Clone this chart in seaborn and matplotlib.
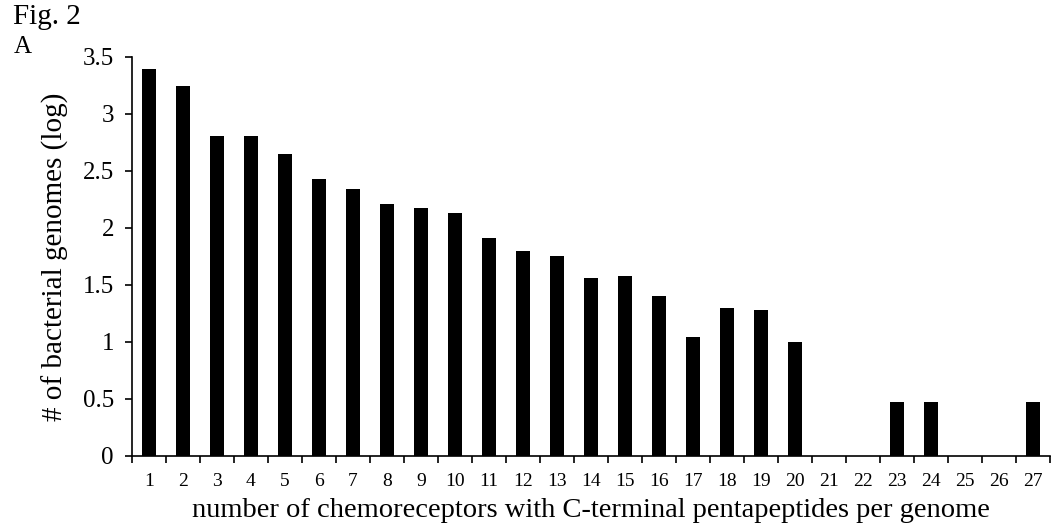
import matplotlib
matplotlib.use("Agg")
import matplotlib.pyplot as plt
from matplotlib.ticker import FixedLocator, FuncFormatter
import seaborn as sns
import pandas as pd

# ---- data ----
categories = [str(i) for i in range(1, 28)]
log_genomes = [3.39, 3.245, 2.807, 2.807, 2.646, 2.427, 2.34, 2.213, 2.175, 2.134,
               1.915, 1.80, 1.757, 1.558, 1.582, 1.40, 1.041, 1.30, 1.279, 1.00,
               0.0, 0.0, 0.477, 0.477, 0.0, 0.0, 0.477]
y_ticks = [0, 0.5, 1, 1.5, 2, 2.5, 3, 3.5]

df = pd.DataFrame({"n": categories, "v": log_genomes})

sns.set_theme(style="white")
plt.rcParams["font.family"] = ["Liberation Serif", "DejaVu Serif"]

fig = plt.figure(figsize=(10.6, 5.27), dpi=100)
ax = fig.add_axes([132 / 1060, 1 - 456 / 527, (1050 - 132) / 1060, (456 - 56.7) / 527])

sns.barplot(data=df, x="n", y="v", order=categories, color="black",
            width=0.39, saturation=1, ax=ax, edgecolor="black", linewidth=0)

ax.set_xlim(-0.5, len(categories) - 0.5)
ax.set_ylim(0, 3.5)
ax.yaxis.set_major_locator(FixedLocator(y_ticks))
ax.yaxis.set_major_formatter(FuncFormatter(lambda v, p: f"{v:g}"))

# category boundary ticks (minor) and unticked labels (major)
ax.set_xticks([i - 0.5 for i in range(len(categories) + 1)], minor=True)
ax.tick_params(axis="x", which="minor", length=5, width=1.2, direction="out",
               color="black", bottom=True)
ax.tick_params(axis="x", which="major", length=0, pad=12, labelsize=14,
               labelcolor="black")
ax.tick_params(axis="y", which="major", length=5, width=1.2, direction="out",
               color="black", left=True, pad=8, labelsize=18, labelcolor="black")

for side in ("top", "right"):
    ax.spines[side].set_visible(False)
for side in ("left", "bottom"):
    ax.spines[side].set_color("black")
    ax.spines[side].set_linewidth(1.2)

ax.set_xlabel("number of chemoreceptors with C-terminal pentapeptides per genome",
              fontsize=20.5, color="black", labelpad=6)
ax.set_ylabel("# of bacterial genomes (log)", fontsize=21, color="black", labelpad=10)
ax.grid(False)

fig.text(13 / 1060, 1 - 24 / 527, "Fig. 2", fontsize=21, color="black",
         ha="left", va="baseline")
fig.text(14 / 1060, 1 - 53 / 527, "A", fontsize=18, color="black",
         ha="left", va="baseline")

fig.savefig("out.png", dpi=100, facecolor="white")
